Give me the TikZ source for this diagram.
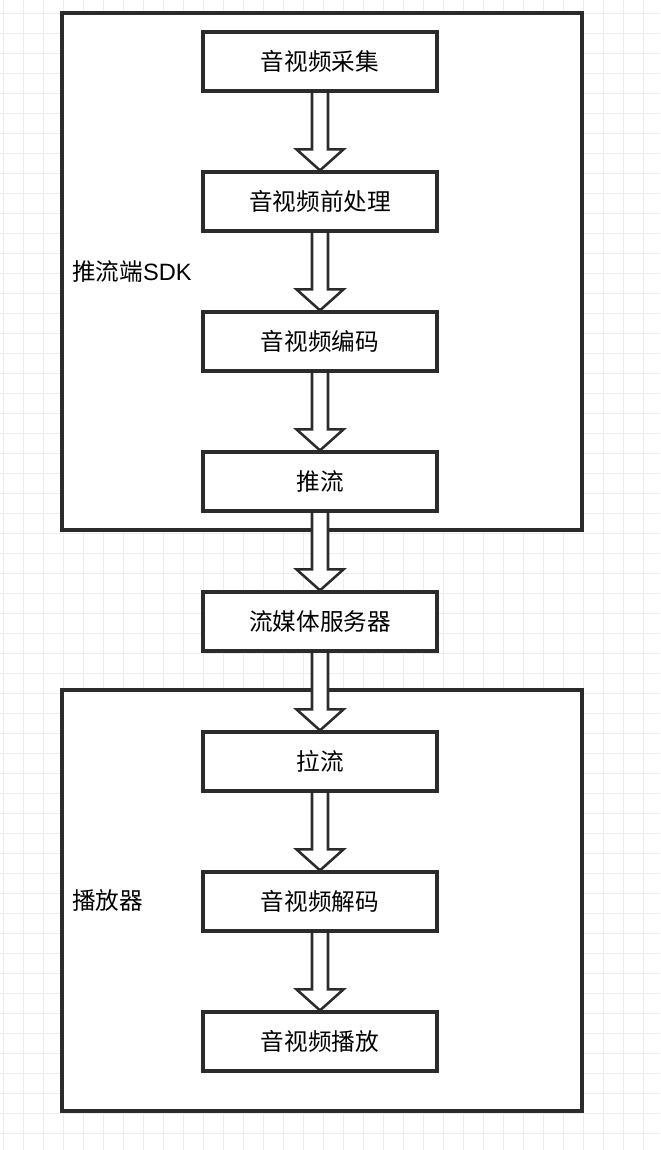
\documentclass[tikz,border=0pt]{standalone}
\usepackage{fontspec}
\setmainfont{Liberation Sans}
\newfontfamily\cjk{Noto Sans CJK SC}
\usepackage{tikz}
\usetikzlibrary{calc}
\definecolor{linegray}{HTML}{2B2B2B}
\definecolor{gridgray}{HTML}{ECECEF}
\pgfdeclarelayer{bg}
\pgfdeclarelayer{arrowlayer}
\pgfsetlayers{bg,arrowlayer,main}
\tikzset{
  stagebox/.style={draw=linegray, line width=2.3pt, fill=white, inner sep=0pt,
    minimum width=5.85cm, minimum height=1.475cm,
    font=\cjk\fontsize{16.8}{18}\selectfont},
  groupbox/.style={draw=linegray, line width=2.2pt, fill=white},
  grouplabel/.style={anchor=west, inner sep=0pt, font=\fontsize{16.8}{18}\selectfont},
  flowarrow/.style={draw=linegray, line width=1.8pt, fill=white, line join=miter},
  gridline/.style={draw=gridgray, line width=0.6pt}
}
% hollow block arrow from one stage to the next
\newcommand{\hollowarrow}[2]{%
  \draw[flowarrow] ($(#1.south)+(-8,0)$) -- ($(#2.north)+(-8,-21)$)
    -- ($(#2.north)+(-23.5,-21)$) -- (#2.north) -- ($(#2.north)+(23.5,-21)$)
    -- ($(#2.north)+(8,-21)$) -- ($(#1.south)+(8,0)$);}

\begin{document}
\begin{tikzpicture}[x=0.025cm,y=-0.025cm]
\useasboundingbox (0,0) rectangle (660,1150);
\begin{pgfonlayer}{bg}
\fill[white] (0,0) rectangle (660,1150);
\foreach \gx in {3,23,...,663} \draw[gridline] (\gx,0) -- (\gx,1150);
\foreach \gy in {13,33,...,1153} \draw[gridline] (0,\gy) -- (660,\gy);
% the two groups
\draw[groupbox] (62,13) rectangle (582,530);
\draw[groupbox] (62,690) rectangle (582,1111);
\end{pgfonlayer}

\node[grouplabel] (pushlabel) at (72,272) {{\cjk 推流端}SDK};
\node[grouplabel] (playlabel) at (72,901) {{\cjk 播放器}};

\node[stagebox] (caiji) at (320,61.5) {音视频采集};
\node[stagebox] (qianchuli) at (320,201.5) {音视频前处理};
\node[stagebox] (bianma) at (320,341.5) {音视频编码};
\node[stagebox] (tuiliu) at (320,481.5) {推流};
\node[stagebox] (server) at (320,621.5) {流媒体服务器};
\node[stagebox] (laliu) at (320,761.5) {拉流};
\node[stagebox] (jiema) at (320,901.5) {音视频解码};
\node[stagebox] (bofang) at (320,1041.5) {音视频播放};

\begin{pgfonlayer}{arrowlayer}
\hollowarrow{caiji}{qianchuli}
\hollowarrow{qianchuli}{bianma}
\hollowarrow{bianma}{tuiliu}
\hollowarrow{tuiliu}{server}
\hollowarrow{server}{laliu}
\hollowarrow{laliu}{jiema}
\hollowarrow{jiema}{bofang}
\end{pgfonlayer}
\end{tikzpicture}
\end{document}
